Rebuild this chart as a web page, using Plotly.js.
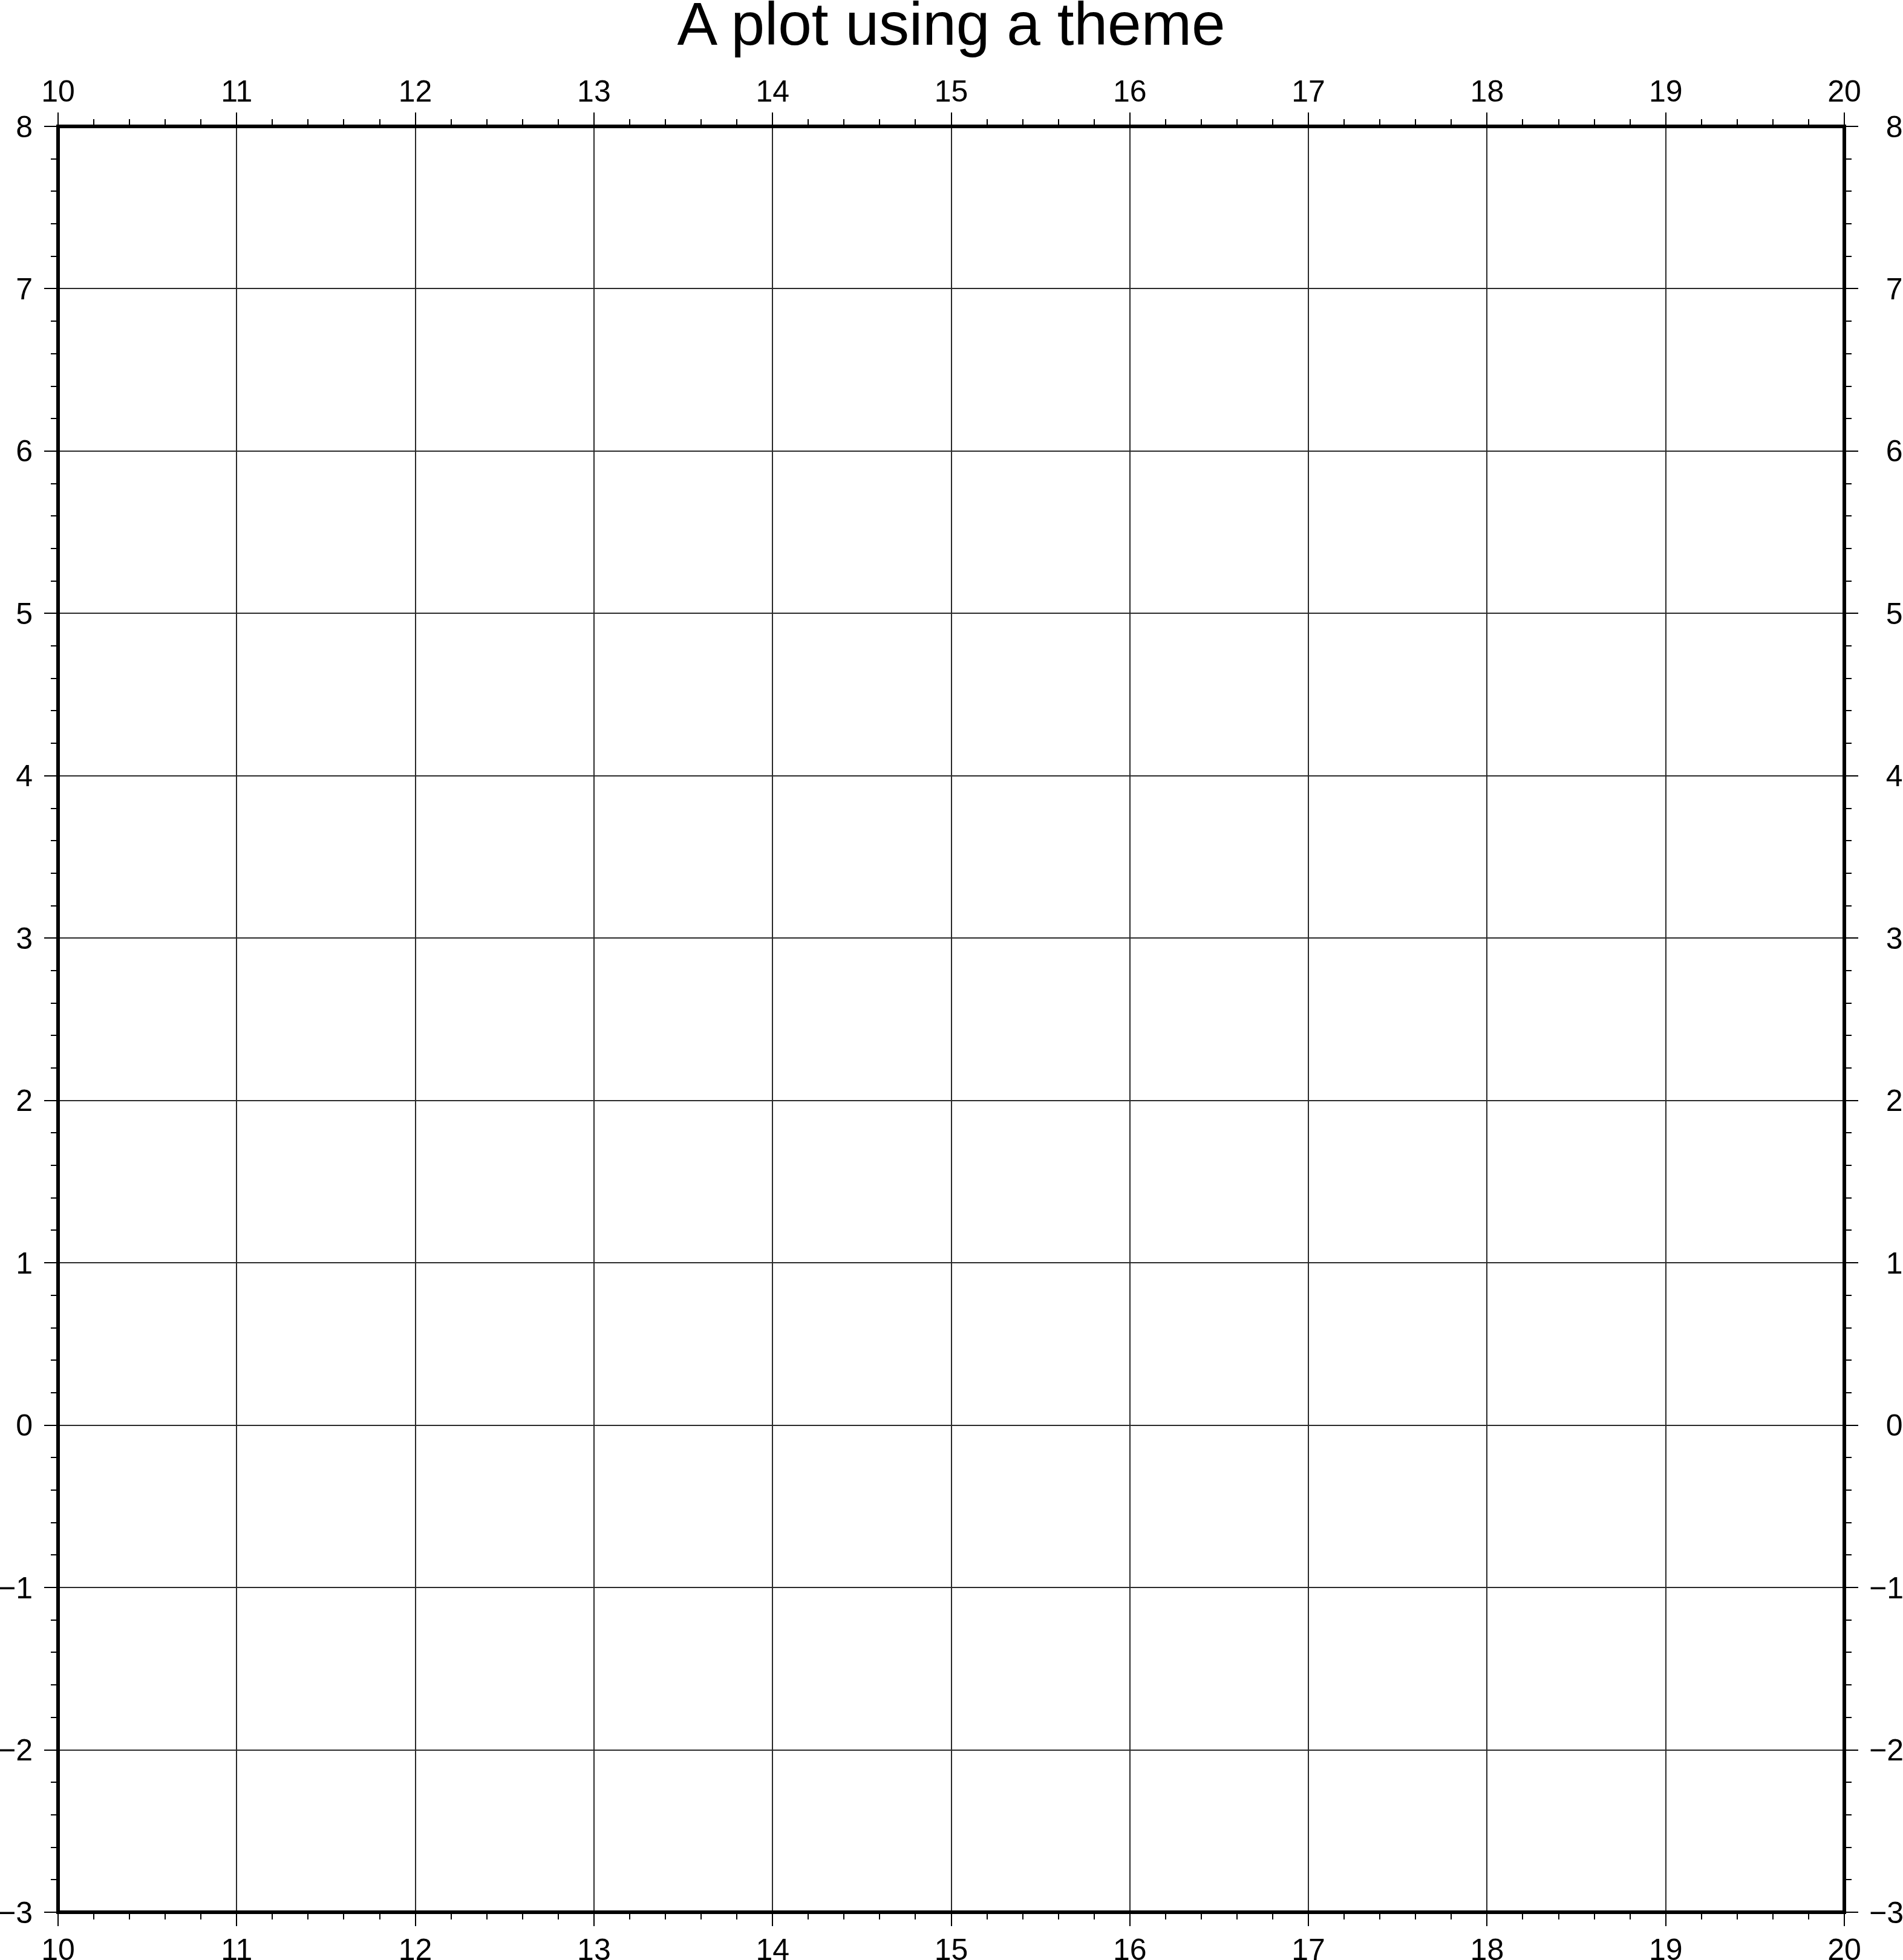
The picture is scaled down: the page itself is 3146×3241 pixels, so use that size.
<!DOCTYPE html>
<html>
<head>
<meta charset="utf-8">
<script src="https://cdn.plot.ly/plotly-3.0.1.min.js"></script>
<style>html,body{margin:0;padding:0;background:#fff;}#chart{width:3146px;height:3241px;}</style>
</head>
<body>
<div id="chart"></div>
<script>
// ---- data ----
const titleText = "A plot using a theme";
const xRange = [10, 20];
const yRange = [-3, 8];
const xTickVals = [10, 11, 12, 13, 14, 15, 16, 17, 18, 19, 20];
const xTickText = ["10", "11", "12", "13", "14", "15", "16", "17", "18", "19", "20"];
const yTickVals = [-3, -2, -1, 0, 1, 2, 3, 4, 5, 6, 7, 8];
const yTickText = ["\u22123", "\u22122", "\u22121", "0", "1", "2", "3", "4", "5", "6", "7", "8"];
const minorStep = 0.2;

// right-side labels are right-aligned in the reference: pad with figure spaces
const yTickTextRight = yTickText.map(t => t.startsWith("\u2212") ? t : "\u2007" + t);

const FONT = "Liberation Sans, Arial, Helvetica, sans-serif";
const tickFont = {family: FONT, size: 50, color: "#000"};

function minorOf(r) {
  return {ticks: "outside", ticklen: 11, tickwidth: 2, tickcolor: "#000",
          tickmode: "linear", tick0: r[0], dtick: minorStep, showgrid: false};
}
function axisBase(extra) {
  return Object.assign({
    showline: false, zeroline: false,
    ticks: "outside", ticklen: 22, tickwidth: 2, tickcolor: "#000",
    tickfont: tickFont, tickmode: "array", fixedrange: true
  }, extra);
}

const layout = {
  width: 3146,
  height: 3241,
  margin: {l: 96, r: 97, t: 209, b: 79, pad: 0},
  paper_bgcolor: "#fff",
  plot_bgcolor: "#fff",
  showlegend: false,
  title: {
    text: titleText,
    font: {family: FONT, size: 100, color: "#000"},
    x: 0.5, xref: "paper", xanchor: "center",
    y: 1 - 74 / 3241, yref: "container", yanchor: "bottom"
  },
  xaxis: axisBase({
    range: xRange, side: "bottom", anchor: "y",
    tickvals: xTickVals, ticktext: xTickText,
    showgrid: true, gridcolor: "#2a2a2a", gridwidth: 2,
    minor: minorOf(xRange), ticklabelstandoff: -4
  }),
  xaxis2: axisBase({
    range: xRange, side: "top", anchor: "y", overlaying: "x", matches: "x",
    tickvals: xTickVals, ticktext: xTickText, showgrid: false,
    minor: minorOf(xRange), ticklabelstandoff: -2
  }),
  yaxis: axisBase({
    range: yRange, side: "left", anchor: "x",
    tickvals: yTickVals, ticktext: yTickText,
    showgrid: true, gridcolor: "#2a2a2a", gridwidth: 2,
    minor: minorOf(yRange), ticklabelstandoff: 9
  }),
  yaxis2: axisBase({
    range: yRange, side: "right", anchor: "x", overlaying: "y", matches: "y",
    tickvals: yTickVals, ticktext: yTickTextRight, showgrid: false,
    minor: minorOf(yRange), ticklabelstandoff: 8
  }),
  shapes: [{
    type: "rect", xref: "paper", yref: "paper", x0: 0, x1: 1, y0: 0, y1: 1,
    line: {color: "#000", width: 6}, fillcolor: "rgba(0,0,0,0)", layer: "above"
  }]
};

const hidden = {mode: "markers", marker: {opacity: 0, size: 1}, hoverinfo: "skip", showlegend: false};
const data = [
  Object.assign({type: "scatter", x: xRange, y: yRange, xaxis: "x", yaxis: "y"}, hidden),
  Object.assign({type: "scatter", x: xRange, y: yRange, xaxis: "x2", yaxis: "y"}, hidden),
  Object.assign({type: "scatter", x: xRange, y: yRange, xaxis: "x", yaxis: "y2"}, hidden)
];

Plotly.newPlot("chart", data, layout, {staticPlot: true, displayModeBar: false});
</script>
</body>
</html>
